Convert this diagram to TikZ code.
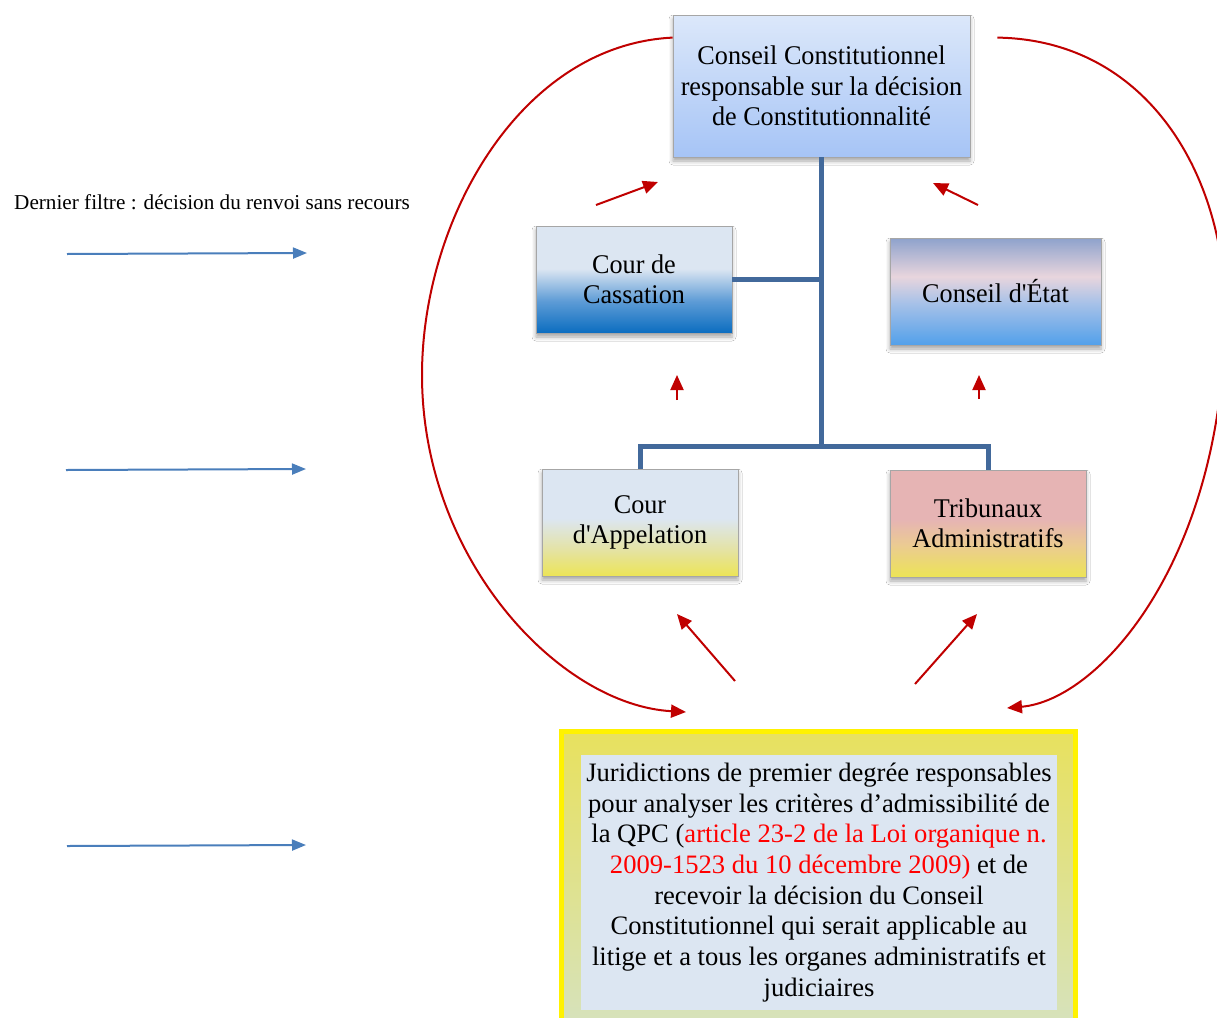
\documentclass[tikz,border=0pt]{standalone}
\usepackage{fontspec}
\setmainfont{Liberation Serif}
\newfontfamily\boxfont[FakeStretch=0.97]{Liberation Serif}
\usepackage{xcolor}
\usetikzlibrary{arrows.meta, shadows.blur, calc}

\definecolor{treeblue}{HTML}{42699B}
\definecolor{arrowblue}{HTML}{4A7EBB}
\definecolor{curvered}{HTML}{C00000}
\definecolor{constT}{HTML}{DCE8FA}
\definecolor{constB}{HTML}{A6C4F6}
\definecolor{paleblue}{HTML}{DCE6F2}
\definecolor{cassB}{HTML}{0B6DC0}
\definecolor{cassM}{HTML}{5E9CD6}
\definecolor{etatT}{HTML}{8EA2CC}
\definecolor{etatP}{HTML}{E8D5DD}
\definecolor{etatM}{HTML}{A9C2E8}
\definecolor{etatB}{HTML}{52A0EA}
\definecolor{yellowB}{HTML}{ECE456}
\definecolor{yellowM}{HTML}{E4E3A8}
\definecolor{pinkT}{HTML}{E6B4B4}
\definecolor{pinkM}{HTML}{EBCB92}
\definecolor{juriT}{HTML}{E8E15E}
\definecolor{juriB}{HTML}{D6E2BE}

% fonds des cadres
\pgfdeclareverticalshading{constshade}{100bp}{color(0bp)=(constB); color(25bp)=(constB); color(75bp)=(constT); color(100bp)=(constT)}
\pgfdeclareverticalshading{cassshade}{100bp}{color(0bp)=(cassB); color(25bp)=(cassB); color(40bp)=(cassM); color(55bp)=(paleblue); color(100bp)=(paleblue)}
\pgfdeclareverticalshading{etatshade}{100bp}{color(0bp)=(etatB); color(25bp)=(etatB); color(45bp)=(etatM); color(57bp)=(etatP); color(75bp)=(etatT); color(100bp)=(etatT)}
\pgfdeclareverticalshading{appelshade}{100bp}{color(0bp)=(yellowB); color(25bp)=(yellowB); color(38bp)=(yellowM); color(52bp)=(paleblue); color(100bp)=(paleblue)}
\pgfdeclareverticalshading{tribshade}{100bp}{color(0bp)=(yellowB); color(25bp)=(yellowB); color(40bp)=(pinkM); color(52bp)=(pinkT); color(100bp)=(pinkT)}
\pgfdeclareverticalshading{jurishade}{100bp}{color(0bp)=(juriB); color(25bp)=(juriB); color(75bp)=(juriT); color(100bp)=(juriT)}

\tikzset{
  court/.style={draw=gray!70, line width=0.8pt, align=center, inner sep=0pt,
    minimum width=196pt, minimum height=107pt,
    font=\boxfont\fontsize{27}{30.5}\selectfont,
    blur shadow={shadow xshift=0pt, shadow yshift=-4pt, shadow blur radius=4pt, shadow opacity=35}},
  tree/.style={treeblue, line width=5pt, line join=miter},
  redarrow/.style={curvered, line width=2pt, -{Triangle[length=15pt,width=13pt]}},
  bluearrow/.style={arrowblue, line width=2pt, -{Triangle[length=14pt,width=11pt]}}
}

\begin{document}
\begin{tikzpicture}[x=1pt,y=-1pt]
\clip (0,0) rectangle (1217,1017);
\fill[white] (0,0) rectangle (1217,1017);

% cadres
\node[court, shading=constshade, minimum width=297pt, minimum height=142pt] (const) at (821.5,86) {Conseil Constitutionnel\\responsable sur la décision\\de Constitutionnalité};
\node[court, shading=cassshade] (cass) at (634,279.5) {Cour de\\Cassation};
\node[court, shading=etatshade, minimum width=211pt] (etat) at (995.5,291.5) {Conseil d'État};
\node[court, shading=appelshade] (appel) at (640,522.5) {Cour\\d'Appelation};
\node[court, shading=tribshade] (trib) at (988,523.5) {Tribunaux\\Administratifs};

\node[draw=yellow, line width=5pt, shading=jurishade, minimum width=514pt, minimum height=300pt, inner sep=0pt] (jurifr) at (818,881) {};
\node[fill=paleblue, minimum width=476pt, minimum height=255pt, inner sep=0pt, align=center,
  font=\fontsize{26.6}{30.7}\selectfont] (juri) at (819,882.5) {Juridictions de premier degrée responsables\\pour analyser les critères d’admissibilité de\\la QPC ({\color{red}article 23-2 de la Loi organique n.}\\{\color{red}2009-1523 du 10 décembre 2009)} et de\\recevoir la décision du Conseil\\Constitutionnel qui serait applicable au\\litige et a tous les organes administratifs et\\judiciaires};

\node[anchor=west, inner sep=0pt, font=\fontsize{21.2}{24}\selectfont] (filtre) at (14,202) {Dernier filtre : décision du renvoi sans recours};

% arbre
\coordinate (bus) at (const.south |- 0,446);
\draw[tree] (const.south) -- (bus);
\draw[tree] (cass.east) -- (cass.east -| const.south);
\draw[tree] (appel.north) |- (bus) -| (trib.north);

% fleches rouges
\coordinate (a1) at (596,205); \coordinate (b1) at (658,182);
\coordinate (a2) at (978,205); \coordinate (b2) at (933,183);
\coordinate (a3) at (677,400); \coordinate (b3) at (677,375);
\coordinate (a4) at (979,399); \coordinate (b4) at (979,375);
\coordinate (a5) at (735,681); \coordinate (b5) at (677,614);
\coordinate (a6) at (915,684); \coordinate (b6) at (977,614);
\foreach \i in {1,...,6}
  \draw[redarrow] (a\i) -- (b\i);

\coordinate (lstart) at ([yshift=-23pt]const.north west);
\coordinate (rstart) at ([xshift=27pt,yshift=-23pt]const.north east);
\coordinate (lend) at (686,712);
\coordinate (rend) at (1007,708);
\draw[redarrow] (lstart) .. controls (520,45) and (422,220) .. (422,375)
  .. controls (422,560) and (560,705) .. (lend);
\draw[redarrow] (rstart) .. controls (1150,40) and (1228,180) .. (1225,320)
  .. controls (1222,560) and (1100,700) .. (rend);

% fleches bleues
\coordinate (l1) at (67,254); \coordinate (m1) at (307,253);
\coordinate (l2) at (66,470); \coordinate (m2) at (306,469);
\coordinate (l3) at (67,846); \coordinate (m3) at (306,845);
\foreach \i in {1,2,3}
  \draw[bluearrow] (l\i) -- (m\i);
\end{tikzpicture}
\end{document}
